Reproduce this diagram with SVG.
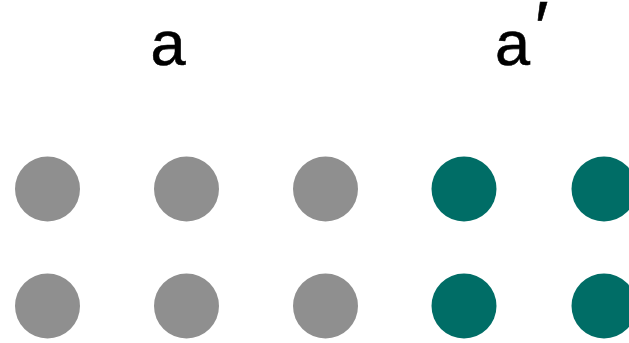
<svg xmlns="http://www.w3.org/2000/svg" width="629" height="343" viewBox="0 0 629 343">
<style>
.lbl{font-family:"Liberation Sans",Arial,sans-serif;font-size:63px;fill:#000;stroke:#000;stroke-width:0.6}
.g{fill:#8f8f8f}
.t{fill:#006d66}
</style>
<rect width="629" height="343" fill="#fff"/>
<g id="labels">
<text id="label-a" class="lbl" x="168" y="65" text-anchor="middle">a</text>
<text id="label-a-prime" class="lbl" x="495" y="65">a<tspan font-size="72" x="535" y="52">′</tspan></text>
</g>
<g id="connectors"></g>
<g id="n1"><circle class="g" cx="47.5" cy="189" r="32.5"/></g>
<g id="n2"><circle class="g" cx="186.5" cy="189" r="32.5"/></g>
<g id="n3"><circle class="g" cx="325.5" cy="189" r="32.5"/></g>
<g id="n4"><circle class="t" cx="464" cy="189" r="32.5"/></g>
<g id="n5"><circle class="t" cx="604" cy="189" r="32.5"/></g>
<g id="n6"><circle class="g" cx="47.5" cy="306" r="32.5"/></g>
<g id="n7"><circle class="g" cx="186.5" cy="306" r="32.5"/></g>
<g id="n8"><circle class="g" cx="325.5" cy="306" r="32.5"/></g>
<g id="n9"><circle class="t" cx="464" cy="306" r="32.5"/></g>
<g id="n10"><circle class="t" cx="604" cy="306" r="32.5"/></g>
</svg>
